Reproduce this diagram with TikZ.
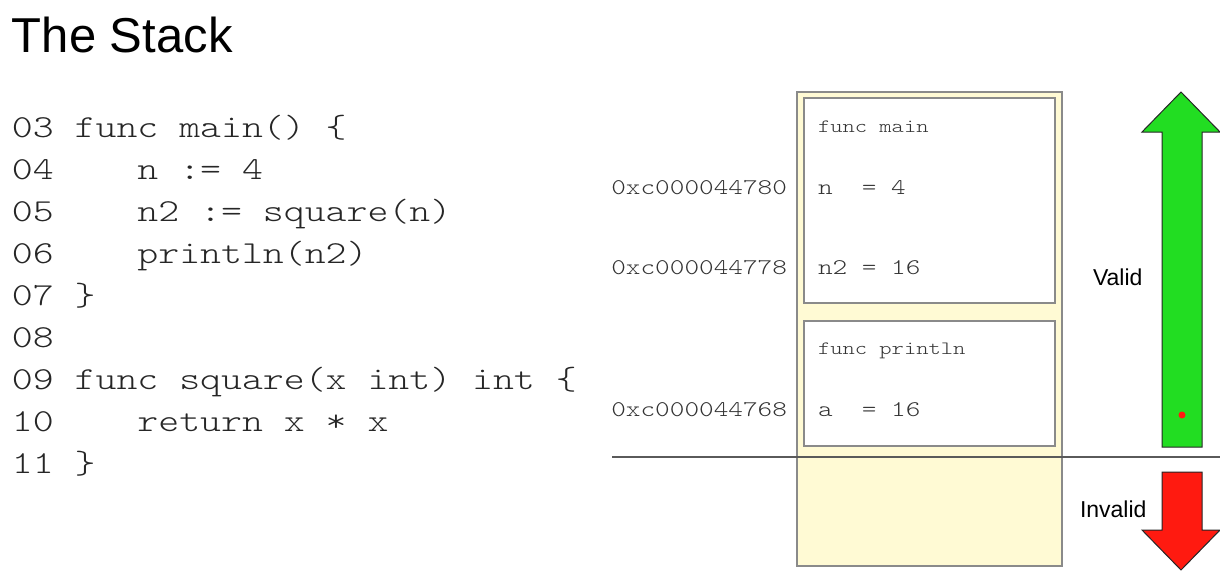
\documentclass[tikz,border=0pt]{standalone}
\usepackage{fontspec}
\setmainfont{Liberation Sans}
\newfontfamily\codefont[FakeStretch=1.245]{lmmonolt10-regular.otf}
\definecolor{stackfill}{HTML}{FFFAD4}
\definecolor{boxline}{HTML}{8A8A8A}
\definecolor{arrowgreen}{HTML}{22DD22}
\definecolor{arrowred}{HTML}{FF1A10}
\definecolor{sepline}{HTML}{5A5A5A}
\begin{document}
\begin{tikzpicture}[x=1pt,y=-1pt,
  every node/.style={inner sep=0pt, outer sep=0pt},
  titletext/.style={font=\fontsize{49}{56}\selectfont, anchor=base west},
  codeline/.style={font=\codefont\fontsize{32}{38}\selectfont, anchor=base west, text=black!85},
  addrtext/.style={font=\codefont\fontsize{22.4}{26}\selectfont, anchor=base east, text=black!80},
  valtext/.style={font=\codefont\fontsize{22.4}{26}\selectfont, anchor=base west, text=black!80},
  frametitle/.style={font=\codefont\fontsize{18.8}{22}\selectfont, anchor=base west, text=black!80},
  labeltext/.style={font=\fontsize{23}{27}\selectfont, anchor=base west},
  stackbox/.style={draw=boxline, line width=1.2pt, fill=stackfill, anchor=north west},
  framebox/.style={draw=boxline, line width=1.2pt, fill=white, anchor=north west, minimum width=251pt},
  bigarrow/.style={draw=black!85, line width=1pt, line join=miter}
]
\useasboundingbox (0,0) rectangle (1220,582);

% title
\node[titletext] (title) at (12,52) {The Stack};

% code
\node[codeline] (l03) at (12,137.0) {03~func main() \{};
\node[codeline] (l04) at (12,179.1) {04~~~~n := 4};
\node[codeline] (l05) at (12,221.2) {05~~~~n2 := square(n)};
\node[codeline] (l06) at (12,263.3) {06~~~~println(n2)};
\node[codeline] (l07) at (12,305.4) {07~\}};
\node[codeline] (l08) at (12,347.5) {08};
\node[codeline] (l09) at (12,389.6) {09~func square(x int) int \{};
\node[codeline] (l10) at (12,431.7) {10~~~~return x * x};
\node[codeline] (l11) at (12,473.8) {11~\}};

% stack
\node[stackbox, minimum width=265pt, minimum height=474pt] (stack) at (797,92) {};
\node[framebox, minimum height=205pt] (fmain) at (804,98) {};
\node[framebox, minimum height=125pt] (fprint) at (804,321) {};

\node[frametitle] (tmain) at (818,132) {func main};
\node[valtext] (vn) at (818,194) {n~~= 4};
\node[valtext] (vn2) at (818,274) {n2 = 16};
\node[frametitle] (tprint) at (818,354) {func println};
\node[valtext] (va) at (818,416) {a~~= 16};

% addresses
\node[addrtext] (a1) at (787,194) {0xc000044780};
\node[addrtext] (a2) at (787,274) {0xc000044778};
\node[addrtext] (a3) at (787,416) {0xc000044768};

% separator line
\coordinate (sepL) at (612,457);
\coordinate (sepR) at (1220,457);
\draw[sepline, line width=2pt] (sepL) -- (sepR);

% valid arrow
\draw[bigarrow, fill=arrowgreen] (1162,447) -- (1162,132) -- (1142,132) -- (1181,92) -- (1220,132) -- (1202,132) -- (1202,447) -- cycle;
\fill[arrowred] (1182,415) circle (3.5);
\node[labeltext] (valid) at (1093,285) {Valid};

% invalid arrow
\draw[bigarrow, fill=arrowred] (1162,472) -- (1202,472) -- (1202,530) -- (1220,530) -- (1181,570) -- (1142,530) -- (1162,530) -- cycle;
\node[labeltext] (invalid) at (1080,517) {Invalid};
\end{tikzpicture}
\end{document}
